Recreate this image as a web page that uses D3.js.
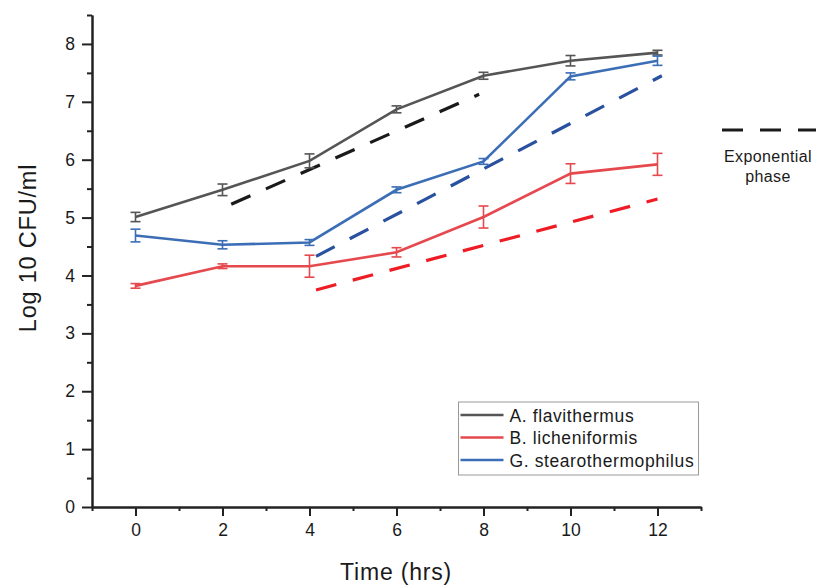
<!DOCTYPE html>
<html>
<head>
<meta charset="utf-8">
<script src="https://cdn.jsdelivr.net/npm/d3@7"></script>
<style>
body { margin: 0; background: #fff; }
text { font-family: "Liberation Sans", Arial, sans-serif; fill: #1a1a1a; }
</style>
</head>
<body>
<div id="chart-area"></div>
<script>
// data
var times = [0, 2, 4, 6, 8, 10, 12]
var species = ["A. flavithermus", "B. licheniformis", "G. stearothermophilus"]
var flaviMean = [5.01, 5.48, 5.98, 6.87, 7.45, 7.71, 7.85]
var flaviErr = [0.08, 0.10, 0.12, 0.06, 0.06, 0.09, 0.04]
var lichMean = [3.82, 4.16, 4.16, 4.40, 5.01, 5.76, 5.92]
var lichErr = [0.04, 0.04, 0.19, 0.08, 0.19, 0.17, 0.19]
var stearoMean = [4.69, 4.53, 4.57, 5.48, 5.97, 7.44, 7.71]
var stearoErr = [0.11, 0.07, 0.05, 0.05, 0.05, 0.06, 0.08]
// exponential phase fits: [start time, start value], [end time, end value]
var flaviExp = [[2.2, 5.23], [7.9, 7.13]]
var lichExp = [[4.15, 3.75], [12.0, 5.32]]
var stearoExp = [[4.15, 4.33], [12.1, 7.45]]
var xTicks = [0, 2, 4, 6, 8, 10, 12]
var yTicks = [0, 1, 2, 3, 4, 5, 6, 7, 8]

var solidColors = ["#555555", "#e5484d", "#3c6eb6"]
var dashColors = ["#1a1a1a", "#ee1d25", "#2a519f"]

var width = 816, height = 585

var svg = d3.select("#chart-area").append("svg")
.attr("width", width)
.attr("height", height)

var x = d3.scaleLinear().domain([-1, 13]).range([92, 701])
var y = d3.scaleLinear().domain([0, 8.5]).range([507, 15])

// axes
var xAxisGroup = svg.append("g")
.attr("transform", "translate(0,507)")
.call(d3.axisBottom(x).tickValues(xTicks).tickSize(9).tickPadding(8).tickSizeOuter(0))
xAxisGroup.append("g")
.call(d3.axisBottom(x).tickValues(d3.range(-1, 14, 2)).tickSize(4).tickFormat("").tickSizeOuter(0))

var yAxisGroup = svg.append("g")
.attr("transform", "translate(92,0)")
.call(d3.axisLeft(y).tickValues(yTicks).tickSize(10).tickPadding(7).tickSizeOuter(0))
yAxisGroup.append("g")
.call(d3.axisLeft(y).tickValues(d3.range(0.5, 9, 1)).tickSize(5).tickFormat("").tickSizeOuter(0))

svg.selectAll(".domain").attr("stroke", "#222").attr("stroke-width", 2)
svg.selectAll(".tick line").attr("stroke", "#222").attr("stroke-width", 2)
svg.selectAll(".tick text").attr("font-size", "17.5px").attr("fill", "#1a1a1a")
.attr("font-family", "Liberation Sans, Arial, sans-serif")

// axis labels
svg.append("text")
.attr("x", 396)
.attr("y", 580)
.attr("font-size", "23px")
.attr("letter-spacing", "0.8px")
.attr("text-anchor", "middle")
.text("Time (hrs)")

svg.append("text")
.attr("transform", "translate(36,248) rotate(-90)")
.attr("font-size", "23.5px")
.attr("letter-spacing", "0.8px")
.attr("text-anchor", "middle")
.text("Log 10 CFU/ml")

// dashed exponential phase lines
var expLines = [flaviExp, lichExp, stearoExp]
var line = d3.line().x(d => x(d[0])).y(d => y(d[1]))

expLines.forEach((pts, i) => {
	svg.append("path")
	.attr("d", line(pts))
	.attr("fill", "none")
	.attr("stroke", dashColors[i])
	.attr("stroke-width", 3.2)
	.attr("stroke-dasharray", "21,17")
})

// solid series with error bars
var means = [flaviMean, lichMean, stearoMean]
var errs = [flaviErr, lichErr, stearoErr]

means.forEach((m, i) => {
	var pts = times.map((t, j) => ({t: t, v: m[j], e: errs[i][j]}))

	svg.append("path")
	.attr("d", d3.line().x(d => x(d.t)).y(d => y(d.v))(pts))
	.attr("fill", "none")
	.attr("stroke", solidColors[i])
	.attr("stroke-width", 2.6)

	var bars = svg.append("g")
	.attr("stroke", solidColors[i])
	.attr("stroke-width", 1.6)

	pts.forEach(d => {
		bars.append("line")
		.attr("x1", x(d.t)).attr("x2", x(d.t))
		.attr("y1", y(d.v - d.e)).attr("y2", y(d.v + d.e))
		bars.append("line")
		.attr("x1", x(d.t) - 5).attr("x2", x(d.t) + 5)
		.attr("y1", y(d.v - d.e)).attr("y2", y(d.v - d.e))
		bars.append("line")
		.attr("x1", x(d.t) - 5).attr("x2", x(d.t) + 5)
		.attr("y1", y(d.v + d.e)).attr("y2", y(d.v + d.e))
	})
})

// legend
var legend = svg.append("g")
.attr("transform", "translate(458.5,402)")

legend.append("rect")
.attr("width", 240)
.attr("height", 73)
.attr("fill", "#fff")
.attr("stroke", "#999")
.attr("stroke-width", 1)

species.forEach((s, i) => {
	var row = legend.append("g")
	.attr("transform", "translate(0," + (13 + i * 22.5) + ")")

	row.append("line")
	.attr("x1", 2).attr("x2", 45)
	.attr("stroke", solidColors[i])
	.attr("stroke-width", 2.6)

	row.append("text")
	.attr("x", 51)
	.attr("y", 6.5)
	.attr("font-size", "17.5px")
	.attr("letter-spacing", "0.6px")
	.text(s)
})

// exponential phase key
svg.append("line")
.attr("x1", 722).attr("x2", 816)
.attr("y1", 130).attr("y2", 130)
.attr("stroke", "#1a1a1a")
.attr("stroke-width", 3.2)
.attr("stroke-dasharray", "21,17")

svg.append("text")
.attr("x", 768)
.attr("y", 162)
.attr("font-size", "16px")
.attr("letter-spacing", "0.4px")
.attr("text-anchor", "middle")
.text("Exponential")

svg.append("text")
.attr("x", 768)
.attr("y", 182)
.attr("font-size", "16px")
.attr("letter-spacing", "0.4px")
.attr("text-anchor", "middle")
.text("phase")
</script>
</body>
</html>
